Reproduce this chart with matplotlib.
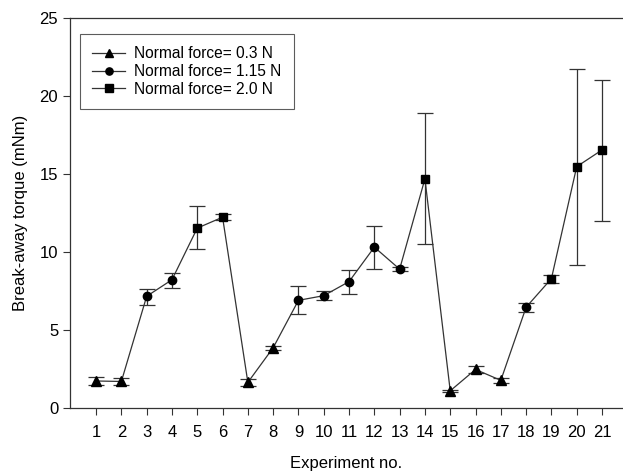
import matplotlib.pyplot as plt
from matplotlib.lines import Line2D

plt.rcParams['font.family'] = ['Liberation Sans', 'DejaVu Sans']

# experiment number, torque (mNm), error bars (upper, lower)
exp_no = list(range(1, 22))
torque = [1.73, 1.70, 7.16, 8.22, 11.53, 12.23, 1.64, 3.86, 6.90, 7.20, 8.10,
          10.31, 8.90, 14.69, 1.10, 2.47, 1.77, 6.46, 8.29, 15.47, 16.54]
err_hi = [0.25, 0.22, 0.45, 0.45, 1.40, 0.20, 0.20, 0.12, 0.95, 0.30, 0.74,
          1.33, 0.12, 4.19, 0.08, 0.25, 0.15, 0.27, 0.25, 6.27, 4.51]
err_lo = [0.25, 0.22, 0.55, 0.55, 1.35, 0.20, 0.20, 0.12, 0.90, 0.30, 0.80,
          1.40, 0.12, 4.19, 0.08, 0.20, 0.20, 0.32, 0.25, 6.33, 4.54]
force = [0.3, 0.3, 1.15, 1.15, 2.0, 2.0, 0.3, 0.3, 1.15, 1.15, 1.15,
         1.15, 1.15, 2.0, 0.3, 0.3, 0.3, 1.15, 2.0, 2.0, 2.0]

groups = [(0.3, '^', 7, 'Normal force= 0.3 N'),
          (1.15, 'o', 6, 'Normal force= 1.15 N'),
          (2.0, 's', 6.3, 'Normal force= 2.0 N')]

fig = plt.figure(figsize=(6.23, 4.71), dpi=100)
ax = fig.add_axes([0.1124, 0.1338, 0.8876, 0.828])

ax.plot(exp_no, torque, '-', color='#333333', lw=0.9, zorder=2)

handles = []
for f, mk, ms, lab in groups:
    idx = [i for i in range(len(force)) if force[i] == f]
    xs = [exp_no[i] for i in idx]
    ys = [torque[i] for i in idx]
    yerr = [[err_lo[i] for i in idx], [err_hi[i] for i in idx]]
    ax.errorbar(xs, ys, yerr=yerr, fmt=mk, color='black', ecolor='#333333',
                elinewidth=0.9, capsize=6, capthick=0.9, markersize=ms,
                zorder=3)
    handles.append(Line2D([], [], color='#333333', lw=0.9, marker=mk,
                          markerfacecolor='black', markeredgecolor='black',
                          markersize=ms - 0.8, label=lab))

ax.set_xlim(-0.03, 21.83)
ax.set_ylim(0, 25)
ax.set_xticks(exp_no)
ax.set_yticks([0, 5, 10, 15, 20, 25])
ax.tick_params(axis='both', direction='out', length=5, width=0.8,
               labelsize=12, color='#333333')
ax.tick_params(axis='x', pad=7)
ax.spines['right'].set_visible(False)
for s in ['left', 'top', 'bottom']:
    ax.spines[s].set_color('#333333')
    ax.spines[s].set_linewidth(0.9)

ax.set_xlabel('Experiment no.', fontsize=12, labelpad=12)
ax.set_ylabel('Break-away torque (mNm)', fontsize=12, labelpad=8)

leg = ax.legend(handles=handles, loc='upper left', bbox_to_anchor=(0.018, 0.959),
                borderaxespad=0, fontsize=11.2, frameon=True, fancybox=False,
                handlelength=2.1, borderpad=0.8, labelspacing=0.17,
                handletextpad=0.6)
leg.get_frame().set_edgecolor('#333333')
leg.get_frame().set_linewidth(0.8)

fig.savefig('out.png', dpi=100)
